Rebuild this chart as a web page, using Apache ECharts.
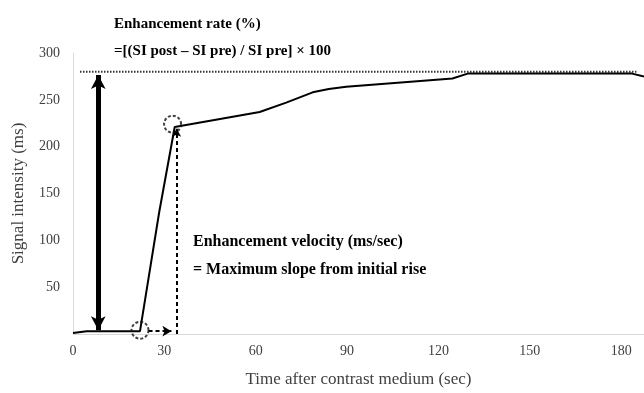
<!DOCTYPE html>
<html>
<head>
<meta charset="utf-8">
<script src="https://cdn.jsdelivr.net/npm/echarts@6/dist/echarts.min.js"></script>
<style>html,body{margin:0;padding:0;background:#fff;}#c{width:644px;height:393px;}</style>
</head>
<body>
<div id="c"></div>
<script>
// Signal intensity curve: [time (sec), signal intensity (ms)]
var curveTime = [0, 4.5, 22, 28.3, 33.4, 61.3, 70, 78.7, 84, 89.7, 124.6, 129.6, 183.6, 187.5];
var curveSignal = [1, 3, 3, 130, 221, 237, 247, 258, 261.5, 264, 272.7, 278, 278, 275];
// Reference (peak) level dotted line
var peakLevel = 280;
var peakLineTime = [2.3, 185];
// Enhancement rate arrow (time, from, to)
var rateArrowTime = 8.3;
var rateArrowFrom = 4;
var rateArrowTo = 276.5;
// Velocity markers
var riseStart = [22, 4];
var riseEnd = [32.7, 224];
var velVertTime = 34;
var velVertTop = 219;
var velHorizFrom = 24.8;
var velHorizTo = 32.3;
var velHorizLevel = 3;
// Axis ticks
var xTicks = [0, 30, 60, 90, 120, 150, 180];
var yTicks = [50, 100, 150, 200, 250, 300];

var serif = '"Liberation Serif", "DejaVu Serif", serif';
var chart = echarts.init(document.getElementById('c'));
var curveData = curveTime.map(function (t, i) { return [t, curveSignal[i]]; });

chart.setOption({
  animation: false,
  backgroundColor: '#fff',
  grid: { left: 73, right: 0, top: 53, bottom: 56 },
  xAxis: {
    type: 'value', min: 0, max: 187.5, interval: 30,
    name: 'Time after contrast medium (sec)', nameLocation: 'middle', nameGap: 37,
    nameTextStyle: { fontFamily: serif, fontSize: 17, color: '#404040' },
    axisLine: { show: true, lineStyle: { color: '#d9d9d9', width: 1 } },
    axisTick: { show: false },
    splitLine: { show: false },
    axisLabel: { fontFamily: serif, fontSize: 14, color: '#404040', margin: 10, showMaxLabel: false,
      formatter: function (v) { return xTicks.indexOf(v) >= 0 ? String(v) : ''; } }
  },
  yAxis: {
    type: 'value', min: 0, max: 300, interval: 50,
    name: 'Signal intensity (ms)', nameLocation: 'middle', nameGap: 46,
    nameTextStyle: { fontFamily: serif, fontSize: 17, color: '#404040' },
    axisLine: { show: true, lineStyle: { color: '#d9d9d9', width: 1 } },
    axisTick: { show: false },
    splitLine: { show: false },
    axisLabel: { fontFamily: serif, fontSize: 14, color: '#404040', margin: 13, showMinLabel: false,
      formatter: function (v) { return yTicks.indexOf(v) >= 0 ? String(v) : ''; } }
  },
  series: [
    {
      type: 'line', data: [[peakLineTime[0], peakLevel], [peakLineTime[1], peakLevel]],
      showSymbol: false, silent: true, z: 1,
      lineStyle: { color: '#333', width: 2, type: [1.5, 1.5] }
    },
    {
      type: 'line', data: curveData, showSymbol: false, silent: true, z: 3,
      lineStyle: { color: '#000', width: 2 }
    },
    {
      type: 'scatter', data: [riseStart, riseEnd], symbol: 'circle', symbolSize: 17, silent: true, z: 4,
      itemStyle: { color: 'rgba(0,0,0,0)', borderColor: '#111', borderWidth: 2, borderType: [3, 2] }
    },
    {
      type: 'line', data: [], silent: true,
      markLine: {
        silent: true, animation: false, label: { show: false },
        data: [
          [
            { coord: [rateArrowTime, rateArrowTo], symbol: 'arrow', symbolSize: [11, 14],
              lineStyle: { color: '#000', width: 5, type: 'solid' } },
            { coord: [rateArrowTime, rateArrowFrom], symbol: 'arrow', symbolSize: [11, 14] }
          ],
          [
            { coord: [velVertTime, 0], symbol: 'none',
              lineStyle: { color: '#000', width: 2, type: [4, 3] } },
            { coord: [velVertTime, velVertTop], symbol: 'arrow', symbolSize: [7, 8] }
          ],
          [
            { coord: [velHorizFrom, velHorizLevel], symbol: 'none',
              lineStyle: { color: '#000', width: 2, type: [4, 3] } },
            { coord: [velHorizTo, velHorizLevel], symbol: 'arrow', symbolSize: [8, 9] }
          ]
        ]
      }
    }
  ],
  graphic: [
    { type: 'text', x: 114, y: 24, style: { text: 'Enhancement rate (%)', font: 'bold 15px ' + serif, fill: '#000', verticalAlign: 'middle' } },
    { type: 'text', x: 114, y: 51, style: { text: '=[(SI post \u2013 SI pre) / SI pre] \u00d7 100', font: 'bold 15px ' + serif, fill: '#000', verticalAlign: 'middle' } },
    { type: 'text', x: 193, y: 242, style: { text: 'Enhancement velocity (ms/sec)', font: 'bold 16px ' + serif, fill: '#000', verticalAlign: 'middle' } },
    { type: 'text', x: 193, y: 270, style: { text: '= Maximum slope from initial rise', font: 'bold 16px ' + serif, fill: '#000', verticalAlign: 'middle' } }
  ]
});
</script>
</body>
</html>
